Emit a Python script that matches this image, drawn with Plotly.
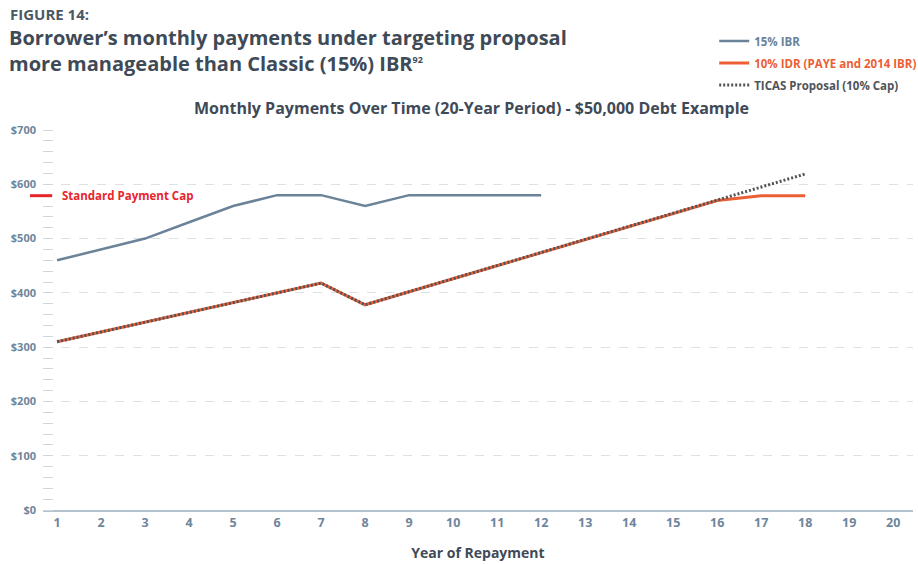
import plotly.graph_objects as go

years = list(range(1, 21))
ibr_years = [1, 2, 3, 4, 5, 6, 7, 8, 9, 10, 11, 12]
ibr_15 = [460, 480, 500, 530, 560, 580, 580, 560, 580, 580, 580, 580]
idr_years = list(range(1, 19))
idr_10 = [310, 328, 346, 364, 382, 400, 418, 378, 402, 426, 450, 474, 498, 522, 546, 570, 579, 579]
ticas = [310, 328, 346, 364, 382, 400, 418, 378, 402, 426, 450, 474, 498, 522, 546, 570, 595, 619]
standard_cap = 579
y_ticks = [0, 100, 200, 300, 400, 500, 600, 700]
y_labels = ["$0", "$100", "$200", "$300", "$400", "$500", "$600", "$700"]

C_IBR = "#6a8399"
C_IDR = "#ec5f35"
C_TICAS = "#505357"
C_TXT = "#3f4a57"
C_TICK = "#6e869b"
FONT = "Open Sans"

fig = go.Figure()
fig.add_trace(go.Scatter(x=ibr_years, y=ibr_15, mode="lines", legendgroup="a",
                         line=dict(color=C_IBR, width=2.5),
                         name=f"<span style='color:{C_IBR}'><b>15% IBR</b></span>"))
fig.add_trace(go.Scatter(x=idr_years, y=idr_10, mode="lines", legendgroup="b",
                         line=dict(color=C_IDR, width=3),
                         name=f"<span style='color:{C_IDR}'><b>10% IDR (PAYE and 2014 IBR)</b></span>"))
fig.add_trace(go.Scatter(x=idr_years, y=ticas, mode="lines", legendgroup="c",
                         line=dict(color=C_TICAS, width=3, dash="2px,2px"),
                         name=f"<span style='color:{C_TICAS}'><b>TICAS Proposal (10% Cap)</b></span>"))

fig.update_layout(
    width=918, height=564,
    margin=dict(l=43, r=5, t=130, b=54, autoexpand=False),
    paper_bgcolor="white", plot_bgcolor="white",
    font=dict(family=FONT, color=C_TXT),
    showlegend=True,
    legend=dict(xref="container", yref="container", x=0.778, y=0.953,
                xanchor="left", yanchor="top", font=dict(size=11.5, family=FONT),
                tracegroupgap=3, itemwidth=30, bgcolor="rgba(0,0,0,0)"),
    xaxis=dict(range=[0.68, 20.45], tickvals=years, ticktext=[f"<b>{v}</b>" for v in years],
               showgrid=False, zeroline=False, showline=True, linecolor="#b2c3cf", linewidth=1.5,
               ticks="", tickfont=dict(size=12.5, color=C_TICK, family=FONT),
               title=dict(text="<b>Year of Repayment</b>", font=dict(size=14, color=C_TXT), standoff=18)),
    yaxis=dict(range=[0, 700], tickvals=y_ticks, ticktext=[f"<b>{t}</b>" for t in y_labels],
               showgrid=True, gridcolor="#dbe2e6", griddash="dash", gridwidth=1,
               zeroline=False, showline=False, ticks="",
               tickfont=dict(size=11, color=C_TICK, family=FONT),
               ticklabelstandoff=6,
               minor=dict(dtick=20, ticks="inside", ticklen=10, tickcolor="#cfd4d8", tickwidth=1, showgrid=False)),
)

# Standard payment cap marker
fig.add_shape(type="line", xref="paper", yref="y", x0=-0.015, x1=0.0105, y0=standard_cap, y1=standard_cap,
              line=dict(color="#e8252b", width=3))
fig.add_annotation(xref="paper", yref="y", x=0.019, y=standard_cap, xanchor="left", yanchor="middle",
                   text="<b>Standard Payment Cap</b>", showarrow=False,
                   font=dict(size=11.5, color="#e8252b", family=FONT))

# Titles
fig.add_annotation(xref="paper", yref="paper", x=-0.0405, y=1 + (130 - 14) / 380, xanchor="left", yanchor="middle",
                   text="<b>FIGURE 14:</b>", showarrow=False, font=dict(size=15, color="#4b5866", family=FONT))
fig.add_annotation(xref="paper", yref="paper", x=-0.0415, y=1 + (130 - 51) / 380, xanchor="left", yanchor="middle",
                   align="left",
                   text="<b>Borrower’s monthly payments under targeting proposal<br>more manageable than Classic (15%) IBR<sup><span style='font-size:9px'>92</span></sup></b>",
                   showarrow=False, font=dict(size=20, color=C_TXT, family=FONT))
fig.add_annotation(xref="paper", yref="paper", x=0.493, y=1 + (130 - 108) / 380, xanchor="center", yanchor="middle",
                   text="<b>Monthly Payments Over Time (20-Year Period) - $50,000 Debt Example</b>",
                   showarrow=False, font=dict(size=16, color=C_TXT, family=FONT))

fig.write_html("out.html")
